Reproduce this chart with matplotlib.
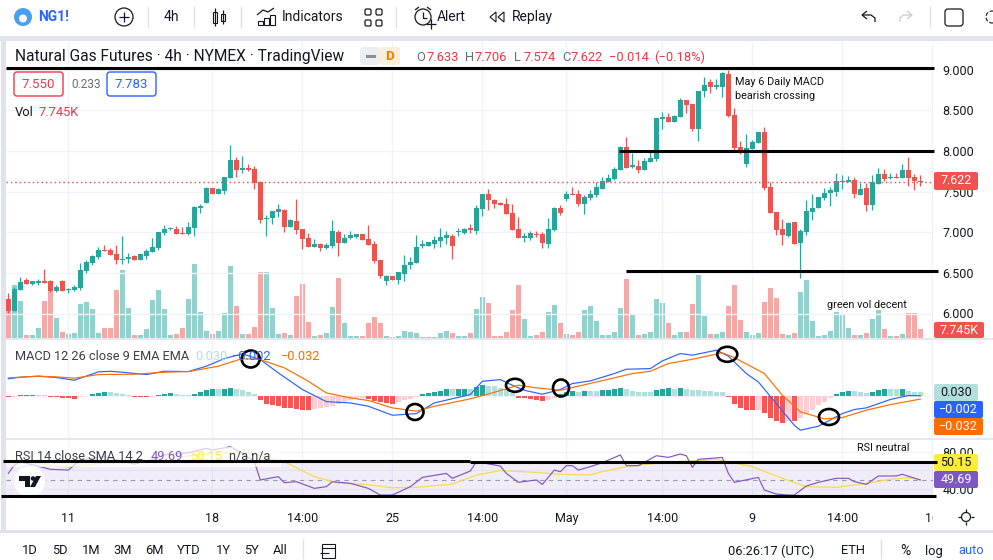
import numpy as np
import matplotlib
matplotlib.use('Agg')
import matplotlib.pyplot as plt
from matplotlib.patches import Rectangle, FancyBboxPatch, Circle, Ellipse, Polygon

plt.rcParams['font.family'] = ['Roboto', 'DejaVu Sans']

# ---- candles (one row = 10 bars)
open_ = [6.178,6.031,6.289,6.412,6.363,6.375,6.400,6.400,6.277,6.400,
         6.289,6.289,6.314,6.523,6.621,6.695,6.781,6.781,6.732,6.658,
         6.670,6.707,6.658,6.707,6.756,6.806,6.990,7.039,7.039,6.990,
         6.978,7.052,7.298,7.359,7.544,7.470,7.507,7.667,7.888,7.765,
         7.790,7.777,7.617,7.162,7.175,7.248,7.273,7.064,7.138,7.039,
         6.929,6.818,6.855,6.806,6.830,7.002,6.867,6.929,6.941,6.978,
         6.916,6.855,6.658,6.400,6.461,6.412,6.486,6.597,6.621,6.830,
         6.830,6.855,6.892,6.929,6.953,7.002,6.990,7.052,7.015,7.285,
         7.470,7.396,7.359,7.347,7.236,7.039,6.929,6.929,6.978,6.978,
         6.855,7.027,7.298,7.408,7.470,7.470,7.347,7.421,7.458,7.531,
         7.617,7.654,7.765,8.048,7.802,7.814,7.765,7.863,7.900,8.388,
         8.413,8.351,8.421,8.626,8.577,8.269,8.737,8.843,8.782,8.790,
         8.946,8.441,8.044,7.839,8.023,8.101,8.232,7.552,7.248,7.039,
         6.957,7.125,6.863,7.006,7.248,7.298,7.421,7.478,7.490,7.622,
         7.622,7.642,7.462,7.544,7.334,7.593,7.716,7.667,7.679,7.671,
         7.765,7.679,7.633]
high = [6.252,6.326,6.449,6.437,6.400,6.424,6.547,6.412,6.351,6.412,
        6.314,6.351,6.621,6.658,6.720,6.818,6.843,6.806,6.843,6.953,
        6.744,6.720,6.732,6.793,6.929,7.002,7.089,7.064,7.076,7.064,
        7.125,7.322,7.347,7.556,7.544,7.544,7.679,8.073,7.925,7.937,
        7.839,7.814,7.630,7.212,7.261,7.347,7.285,7.162,7.408,7.039,
        6.990,6.916,6.867,6.867,7.150,7.027,6.978,7.015,6.978,6.978,
        7.089,6.892,6.658,6.474,6.461,6.510,6.720,6.695,6.966,6.904,
        6.879,6.953,7.052,7.015,6.978,7.052,7.052,7.101,7.335,7.470,
        7.531,7.408,7.371,7.421,7.347,7.187,6.990,7.015,7.015,7.002,
        7.175,7.310,7.335,7.507,7.556,7.519,7.458,7.519,7.617,7.679,
        7.716,7.802,8.060,8.171,7.974,7.888,7.913,7.986,8.400,8.474,
        8.462,8.437,8.647,8.626,8.577,8.737,8.905,8.880,8.880,8.970,
        8.995,8.524,8.122,8.208,8.134,8.232,8.298,7.622,7.248,7.158,
        7.121,7.125,7.035,7.396,7.470,7.433,7.544,7.552,7.724,7.703,
        7.691,7.675,7.601,7.601,7.703,7.794,7.777,7.724,7.724,7.839,
        7.921,7.716,7.706]
low = [6.006,6.031,6.289,6.363,6.351,6.351,6.375,6.264,6.264,6.277,
       6.252,6.277,6.289,6.498,6.597,6.670,6.769,6.720,6.609,6.609,
       6.621,6.658,6.658,6.670,6.756,6.781,6.966,7.027,6.978,6.978,
       6.966,6.953,7.236,7.359,7.470,7.470,7.470,7.667,7.679,7.728,
       7.753,7.531,7.113,6.953,7.101,7.187,7.002,7.064,6.978,6.793,
       6.818,6.818,6.769,6.793,6.806,6.707,6.867,6.916,6.929,6.904,
       6.843,6.621,6.437,6.351,6.412,6.363,6.400,6.547,6.621,6.806,
       6.830,6.806,6.818,6.855,6.670,6.953,6.978,6.990,6.978,7.199,
       7.273,7.298,7.335,7.224,7.027,6.929,6.879,6.904,6.941,6.806,
       6.806,7.015,7.212,7.384,7.458,7.322,7.224,7.396,7.433,7.531,
       7.617,7.642,7.765,7.790,7.790,7.728,7.765,7.863,7.876,8.265,
       8.355,8.351,8.421,8.462,8.249,8.126,8.667,8.708,8.761,8.667,
       8.413,8.011,7.962,7.806,8.023,8.101,7.519,7.240,6.965,6.843,
       6.937,6.855,6.437,6.965,7.150,7.298,7.396,7.326,7.445,7.531,
       7.622,7.421,7.462,7.265,7.273,7.593,7.630,7.650,7.663,7.671,
       7.568,7.523,7.574]
close = [6.031,6.301,6.387,6.363,6.400,6.400,6.375,6.277,6.326,6.277,
         6.301,6.326,6.535,6.633,6.707,6.781,6.769,6.720,6.658,6.670,
         6.695,6.658,6.732,6.769,6.818,7.002,7.039,7.052,6.978,6.978,
         7.064,7.310,7.322,7.544,7.470,7.531,7.679,7.888,7.765,7.790,
         7.765,7.605,7.150,7.175,7.261,7.285,7.064,7.150,7.027,6.916,
         6.818,6.855,6.806,6.843,7.015,6.867,6.929,6.966,6.978,6.904,
         6.843,6.646,6.461,6.461,6.412,6.510,6.597,6.633,6.818,6.855,
         6.879,6.904,6.941,6.966,6.830,7.015,7.039,7.027,7.298,7.470,
         7.396,7.347,7.335,7.224,7.027,6.929,6.953,6.990,6.966,6.867,
         7.039,7.298,7.236,7.470,7.458,7.347,7.433,7.470,7.556,7.630,
         7.667,7.777,8.048,7.790,7.826,7.765,7.876,7.913,8.400,8.413,
         8.355,8.429,8.626,8.569,8.265,8.737,8.806,8.790,8.811,8.954,
         8.429,8.032,8.011,8.032,8.114,8.232,7.540,7.240,7.027,6.965,
         7.113,6.855,7.019,7.261,7.298,7.433,7.478,7.519,7.630,7.630,
         7.642,7.470,7.531,7.334,7.622,7.712,7.650,7.679,7.671,7.765,
         7.671,7.626,7.622]

# volume in thousands
volume = [22.7,44.3,31,2.8,2.8,8.6,31,40.1,16.9,5.3,
          3.6,4.4,28.5,30.1,24.3,4.4,8.6,8.6,40.1,56.7,
          25.2,2.8,2.8,7.7,31.8,40.1,24.3,2.8,3.6,8.6,
          32.6,61.7,21.9,6.1,3.6,6.1,21,60,26.8,3.6,
          3.6,9.4,55,55,25.2,3.6,4.4,2.8,35.1,45.1,
          13.6,1.9,2.8,4.4,26,50,12.7,1.9,1.9,1.9,
          12.7,17.7,12.7,1.9,1.1,1.9,6.1,5.3,4.4,1.1,
          1.1,1.1,4.4,6.1,4.4,1.9,1.9,4.4,24.3,34.3,
          29.3,1.9,1.9,5.3,23.5,44.3,16,1.9,2.8,5.3,
          21.9,27.7,12.7,3.6,2.8,5.3,23.5,26.8,14.4,2.8,
          2.8,5.3,25.2,49.2,19.4,2.8,3.6,5.3,32.6,29.3,
          12.7,2.8,5.3,5.3,28.5,52.5,18.5,3.6,3.6,5.3,
          26.8,44.3,15.2,5.3,2.8,4.4,30.1,41.8,33.5,3.6,
          2.8,4.4,38.4,48.4,14.4,1.9,2.8,6.1,21.9,19.4,
          8.6,2.8,2.8,4.4,16,23.5,7.7,1.9,1.9,3.6,
          21,21,7.745]

# ---- MACD
macd_hist = [-.015,-.012,.003,.006,.009,.006,.003,-.009,-.012,-.021,
             -.024,-.027,-.012,-.003,.012,.024,.033,.033,.027,.015,
             .006,-.009,-.009,-.012,-.009,.009,.018,.021,.012,.009,
             .009,.015,.030,.052,.055,.055,.064,.070,.064,.052,
             .036,.015,-.036,-.073,-.085,-.097,-.109,-.115,-.121,-.127,
             -.127,-.121,-.115,-.103,-.091,-.079,-.061,-.045,-.033,-.024,
             -.030,-.048,-.061,-.067,-.073,-.061,-.042,-.030,-.009,.018,
             .024,.030,.042,.055,.055,.061,.064,.055,.076,.094,
             .091,.085,.073,.055,.024,-.018,-.024,-.030,-.039,-.052,
             -.036,-.018,.012,.036,.039,.033,.039,.039,.039,.048,
             .052,.055,.073,.055,.045,.036,.030,.030,.048,.064,
             .067,.064,.073,.061,.048,.048,.045,.045,.036,.036,
             -.015,-.073,-.115,-.130,-.130,-.127,-.158,-.200,-.230,-.248,
             -.230,-.230,-.206,-.167,-.127,-.085,-.055,-.024,.018,.030,
             .042,.039,.036,.024,.036,.052,.055,.055,.055,.058,
             .042,.036,.030]

macd_idx = [0,2,5,8,11,15,17,19,23,26,30,33,36,39,42,45,49,53,57,60,64,68,71,77,79,82,84,86,89,92,
            94,97,101,103,107,109,112,114,118,120,123,125,128,131,132,135,139,141,143,147,150,152]
macd_val = [.152,.167,.176,.164,.139,.215,.221,.212,.191,.221,.218,.267,.336,.379,.327,.206,.055,
            -.055,-.067,-.097,-.179,-.164,-.067,.009,.130,.145,.094,.048,.012,.055,
            .109,.133,.200,.239,.245,.315,.382,.367,.412,.358,.200,.124,-.073,-.270,-.315,-.279,
            -.164,-.127,-.112,-.036,0,-.002]
signal_idx = [0,5,8,11,15,21,26,30,35,39,42,46,50,53,57,60,64,68,71,77,82,85,88,92,95,101,104,107,
              110,114,119,121,126,129,132,136,139,143,147,152]
signal_val = [.161,.176,.170,.158,.191,.194,.212,.218,.267,.336,.327,.252,.130,.024,-.021,-.045,
              -.112,-.142,-.097,-.030,.045,.094,.070,.048,.085,.161,.200,.221,.291,.330,.388,.345,
              .200,.003,-.148,-.212,-.200,-.133,-.082,-.032]

# ---- RSI
rsi_idx = [0,1,2,7,10,12,16,21,23,26,30,33,34,37,39,41,42,45,46,48,51,53,54,57,60,62,64,67,69,73,
           74,77,78,82,83,85,88,89,91,92,93,94,95,97,99,102,103,105,108,110,112,113,114,115,119,
           120,121,125,126,128,130,131,133,135,138,140,141,143,145,148,149,152]
rsi_val = [56.8,65.8,69.4,61.2,60.4,71.2,74.8,66.9,69.4,76.6,79,83.7,81.9,85.5,78.3,69.4,49.7,53.3,
           46.8,47.9,40.7,42.5,47.9,46.1,40.7,33.5,33.5,42.5,52.5,56.8,51.5,59.3,69.4,64.7,56.8,
           47.2,49.7,45,60.4,58.6,65.1,65.1,60.4,64,68.3,76.6,65.1,65.1,75.8,74,77.6,75.8,63.3,
           71.9,74,56.8,47.2,52.5,38.9,34.6,33.5,33.5,43.2,47.2,51.5,51.5,47.9,45,54,54,55.8,49.69]
rsi_ma_idx = [0,4,7,10,12,15,21,23,35,40,46,51,55,59,64,68,74,78,82,88,92,97,99,103,109,118,124,
              129,133,138,143,147,150,152]
rsi_ma_val = [68.3,68.3,65.8,63.3,64.7,67.6,68.3,70.5,79,79,69.4,53.3,46.1,45.4,41.4,41.8,45.4,55,
              59.7,57.9,55.8,55.1,58.6,64,68.3,71.9,64,51.5,42.5,41.8,46.1,50.4,52.2,50.15]

# ---- scales
price_ticks = [6.0, 6.5, 7.0, 7.5, 8.0, 8.5, 9.0]
price_labels = ['6.000', '6.500', '7.000', '7.500', '8.000', '8.500', '9.000']
time_ticks = [10, 34, 49, 64, 79, 93, 109, 124, 139, 154]
time_labels = ['11', '18', '14:00', '25', '14:00', 'May', '14:00', '9', '14:00', '10']
last_price = 7.622

UP, DOWN = '#26a69a', '#ef5350'
GRID = '#f0f3fa'
TXT = '#131722'
L, R = 6, 933
W, H = 993, 560


def pane(top, bottom, **kw):
    a = fig.add_axes([L / W, 1 - bottom / H, (R - L) / W, (bottom - top) / H], **kw)
    a.set_xlim((L - 8.33) / 6, (R - 8.33) / 6)
    a.set_xticks(time_ticks)
    a.tick_params(length=0, labelbottom=False, labelleft=False)
    a.grid(True, color=GRID, lw=1)
    a.set_axisbelow(True)
    for s in a.spines.values():
        s.set_visible(False)
    return a


fig = plt.figure(figsize=(W / 100, H / 100), dpi=100, facecolor='white')

x = np.arange(len(close))
o, h, l, c = map(np.array, (open_, high, low, close))
colors = np.where(c >= o, UP, DOWN)

# ------------------ price + volume
ax_vol = pane(42, 338, zorder=1)
ax_vol.set_ylim(0, 245.7)
ax_vol.set_yticks([])
ax_vol.grid(False)
ax_vol.bar(x, volume, width=0.86, color=colors, alpha=0.5)

ax = pane(42, 338, zorder=2)
ax.patch.set_alpha(0)
ax.set_ylim(9 - (338 - 69.6) / 81.3, 9 + (69.6 - 42) / 81.3)
ax.set_yticks(price_ticks)
ax.set_yticklabels(price_labels)
ax.tick_params(axis='y', labelright=True, labelsize=9, labelcolor=TXT, pad=7)
ax.vlines(x, l, h, colors=colors, lw=0.85)
ax.bar(x, np.maximum(np.abs(c - o), 0.012), bottom=np.minimum(o, c), width=0.86, color=colors)
ax.axhline(last_price, color=DOWN, lw=1.05, ls=(0, (1, 2)))

# ------------------ MACD
ax2 = pane(340, 439, zorder=2)
ax2.set_ylim(-0.395, 0.505)
ax2.set_yticks([0])
hist = np.array(macd_hist)
prev = np.r_[hist[0], hist[:-1]]
hist_colors = np.where(hist >= 0,
                       np.where(hist > prev, UP, '#b2dfdb'),
                       np.where(hist <= prev, '#ff5252', '#ffcdd2'))
ax2.bar(x[:len(hist)], hist, width=0.86, color=hist_colors)
ax2.plot(macd_idx, macd_val, color='#2962ff', lw=0.85)
ax2.plot(signal_idx, signal_val, color='#ff6d00', lw=0.85)

# ------------------ RSI
ax3 = pane(440, 497, zorder=2)
ax3.set_ylim(31.4, 92.7)
ax3.set_yticks([40, 60, 80])
ax3.set_yticklabels(['40.00', '', '80.00'])
ax3.tick_params(axis='y', labelright=True, labelsize=9, labelcolor=TXT, pad=7)
ax3.axhspan(30, 70, color='#7e57c2', alpha=0.1, lw=0)
ax3.axhline(50, color='#9e9aa8', lw=0.8, ls=(0, (4, 4)))
ax3.plot(rsi_ma_idx, rsi_ma_val, color='#f5dc50', lw=0.95)
ax3.plot(rsi_idx, rsi_val, color='#7e57c2', lw=0.85)
ax3.set_xticklabels(time_labels)
ax3.tick_params(axis='x', labelbottom=True, labelsize=9, labelcolor=TXT, pad=10.5)

# ------------------ overlay: chrome, tags and hand drawings (pixel coords)
ov = fig.add_axes([0, 0, 1, 1], zorder=10)
ov.set_xlim(0, W)
ov.set_ylim(H, 0)
ov.axis('off')


def text(px, py, s, size=9, color=TXT, ha='left', **kw):
    ov.text(px, py, s, fontsize=size, color=color, ha=ha, va='center', **kw)


def rect(x0, y0, x1, y1, color, **kw):
    ov.add_patch(Rectangle((x0, y0), x1 - x0, y1 - y0, fc=color, ec='none', **kw))


def rbox(x0, y0, x1, y1, fc, ec='none', r=2, lw=1):
    ov.add_patch(FancyBboxPatch((x0 + r, y0 + r), x1 - x0 - 2 * r, y1 - y0 - 2 * r,
                                boxstyle='round,pad=%g,rounding_size=%g' % (r, r),
                                fc=fc, ec=ec, lw=lw))


def line(xs, ys, color=TXT, lw=0.9, **kw):
    ov.plot(xs, ys, color=color, lw=lw, solid_capstyle='butt', **kw)


# frame
BAND = '#e0e3eb'
rect(0, 36, W, 41, BAND)
rect(1, 36, 6, 533, BAND)
rect(0, 530, W, 532.5, BAND)
line([6, W], [339, 339], BAND, 1.2)
line([6, W], [439, 439], BAND, 1.2)
rect(933, 505, W, 529, 'white')

# toolbar
ov.add_patch(Circle((23, 17), 9, fc='#4a9ff0', ec='none'))
ov.add_patch(Circle((23, 18.5), 4, fc='white', ec='none'))
text(38, 17, 'NG1!', 10, '#2962ff', weight='bold')
ov.add_patch(Circle((124, 17), 9, fc='none', ec=TXT, lw=0.9))
line([119, 129], [17, 17]); line([124, 124], [12, 22])
for sx in (148, 194, 241, 396, 930):
    line([sx, sx], [6, 28], BAND, 1)
text(171, 17, '4h', 10, ha='center')
ov.add_patch(Rectangle((213, 12), 4, 11, fc='none', ec=TXT, lw=0.8))
ov.add_patch(Rectangle((221, 14), 3.5, 7, fc='none', ec=TXT, lw=0.8))
line([215, 215], [8, 26]); line([222.7, 222.7], [10, 24])
for bx, bt in ((258, 21), (264, 18), (270, 15)):
    ov.add_patch(Rectangle((bx, bt), 4.5, 25 - bt, fc='none', ec=TXT, lw=0.8))
line([257, 263, 268, 274], [15, 10, 12, 8])
text(282, 17, 'Indicators', 10)
for gx in (365, 376):
    for gy in (9, 20):
        ov.add_patch(FancyBboxPatch((gx + 1, gy + 1), 4, 4, boxstyle='round,pad=1,rounding_size=1.5',
                                    fc='none', ec=TXT, lw=0.9))
ov.add_patch(Circle((423, 17), 8, fc='none', ec=TXT, lw=0.9))
line([423, 423, 427], [12, 18, 18])
line([415, 419], [10, 7]); line([427, 431], [7, 10])
line([426, 436], [24, 24]); line([431, 431], [19, 29])
text(437, 17, 'Alert', 10)
ov.add_patch(Polygon([[496, 12], [490, 17], [496, 22]], fc='none', ec=TXT, lw=0.8))
ov.add_patch(Polygon([[504, 12], [498, 17], [504, 22]], fc='none', ec=TXT, lw=0.8))
text(512, 17, 'Replay', 10)
line([867, 862, 867], [11, 15, 19], TXT, 0.9)
line([862, 871, 875, 875], [15, 15, 18, 22], TXT, 0.9)
line([907, 912, 907], [11, 15, 19], '#c9cbd1', 0.9)
line([912, 903, 900, 900], [15, 15, 18, 22], '#c9cbd1', 0.9)
ov.add_patch(FancyBboxPatch((948, 12), 12, 11, boxstyle='round,pad=3,rounding_size=3', fc='none', ec=TXT, lw=0.9))
ov.add_patch(Circle((992, 17), 6, fc='none', ec=TXT, lw=0.8, ls='--'))

# chart legend
text(15, 57, 'Natural Gas Futures · 4h · NYMEX · TradingView', 11.2)
rbox(360, 47, 380, 65, '#eceef2', r=3)
rbox(380, 47, 400, 65, '#fdeedb', r=3)
rect(366, 54.5, 376, 57.5, '#8a8d96')
text(389, 56, 'D', 9.5, '#f57c00', ha='center', weight='bold')
GRAY, RED = '#6a6d78', '#f23645'
for px, s, col in ((416, 'O', GRAY), (427, '7.633', RED), (465, 'H', GRAY), (475, '7.706', RED),
                   (514, 'L', GRAY), (523.5, '7.574', RED), (562, 'C', GRAY), (571, '7.622', RED),
                   (609.5, '−0.014', RED), (654, '(−0.18%)', RED)):
    text(px, 57.5, s, 9.3, col)

rbox(14, 72, 63, 96, 'white', RED, r=3, lw=1)
text(38.5, 85, '7.550', 9.5, RED, ha='center')
text(71, 84, '0.233', 8.5, GRAY)
rbox(107, 72, 156, 96, 'white', '#2962ff', r=3, lw=1)
text(131.5, 85, '7.783', 9.5, '#2962ff', ha='center')
text(15, 113, 'Vol', 9.3)
text(39, 113, '7.745K', 9.3, RED)

# price tags
rbox(934, 172, 978, 190, DOWN)
text(956, 181, '7.622', 9, 'white', ha='center')
rbox(934, 322, 984, 338, DOWN)
text(959, 330, '7.745K', 9, 'white', ha='center')
rbox(934, 384, 978, 401, '#b2dfdb')
text(956, 392.5, '0.030', 9, TXT, ha='center')
rbox(934, 401, 983, 418, '#2962ff')
text(958, 409.5, '−0.002', 9, 'white', ha='center')
rbox(934, 418, 983, 435, '#ff6d00')
text(958, 426.5, '−0.032', 9, 'white', ha='center')
rbox(934, 454, 978, 471, '#ffeb3b')
text(956, 462.5, '50.15', 9, TXT, ha='center')
rbox(934, 471, 978, 488, '#7e57c2')
text(956, 479.5, '49.69', 9, 'white', ha='center')

# indicator legends
text(15, 356, 'MACD 12 26 close 9 EMA EMA', 9.2, '#3b3f4a')
text(195, 356, '0.030', 9.2, '#b2dfdb')
text(232, 356, '−0.002', 9.2, '#2962ff')
text(281, 356, '−0.032', 9.2, '#ff6d00')
rect(7, 447, 281, 467, 'white', alpha=0.7)
text(15, 456.5, 'RSI 14 close SMA 14 2', 9.2, '#3b3f4a')
text(151, 456.5, '49.69', 9.2, '#7e57c2')
text(190, 456.5, '50.15', 9.2, '#ffeb3b')
text(229, 456.5, 'n/a n/a', 9.2, '#3b3f4a')

# tradingview logo
ov.add_patch(Circle((29.5, 481.5), 16, fc='white', ec='#eeeff3', lw=0.8))
ov.add_patch(Polygon([[19, 476], [30, 476], [30, 487], [25, 487], [25, 481], [19, 481]], fc='#131722'))
ov.add_patch(Circle((33, 478.5), 2.3, fc='#131722'))
ov.add_patch(Polygon([[36, 476], [41, 476], [35, 487], [30, 487]], fc='#131722'))

# hand drawn lines and circles
BLK = '#000000'
for xs, ys in (((6, 934), (68.3, 68.3)), ((619, 934), (151, 151)), ((626, 938), (271.3, 271.3)),
               ((3, 470), (460.8, 460.8)), ((470, 937), (461.6, 461.6)), ((1, 936), (496, 496))):
    line(xs, ys, BLK, 2.2)
for cx, cy, rx, ry in ((250.7, 359, 9, 8.5), (415, 412, 8.5, 8), (515, 385.3, 9, 6.5),
                       (561, 388, 8, 8.5), (727.3, 354.3, 10, 7.5), (829, 417, 10, 8)):
    ov.add_patch(Ellipse((cx, cy), 2 * rx, 2 * ry, fc='none', ec=BLK, lw=1.9))
text(735, 82, 'May 6 Daily MACD', 7.8, '#111111')
text(735, 96, 'bearish crossing', 7.8, '#111111')
text(827, 305, 'green vol decent', 7.8, '#111111')
text(857, 448, 'RSI neutral', 7.8, '#111111')

# settings sun
ov.add_patch(Circle((966, 517), 4.5, fc='none', ec=TXT, lw=0.9))
for a in np.deg2rad([0, 90, 180, 270]):
    line([966 + 5 * np.cos(a), 966 + 8 * np.cos(a)], [517 + 5 * np.sin(a), 517 + 8 * np.sin(a)])

# bottom bar
for px, s in ((30, '1D'), (60, '5D'), (91, '1M'), (123, '3M'), (154, '6M'), (189, 'YTD'),
              (223, '1Y'), (251, '5Y'), (280, 'All')):
    text(px, 551, s, 9.3, ha='center')
line([303, 303], [539, 559], BAND, 1)
line([881, 881], [539, 559], BAND, 1)
ov.add_patch(Rectangle((322, 544), 13, 14, fc='none', ec=TXT, lw=0.8))
line([322, 335], [548, 548], TXT, 0.8)
line([320, 329], [553, 553], TXT, 0.8)
text(771, 551, '06:26:17 (UTC)', 9.3, ha='center')
text(853, 551, 'ETH', 9.3, ha='center')
text(905, 551, '%', 10, ha='center')
text(934, 551, 'log', 9.3, ha='center')
text(971, 551, 'auto', 9.3, '#2962ff', ha='center')

fig.savefig('out.png', dpi=100)
